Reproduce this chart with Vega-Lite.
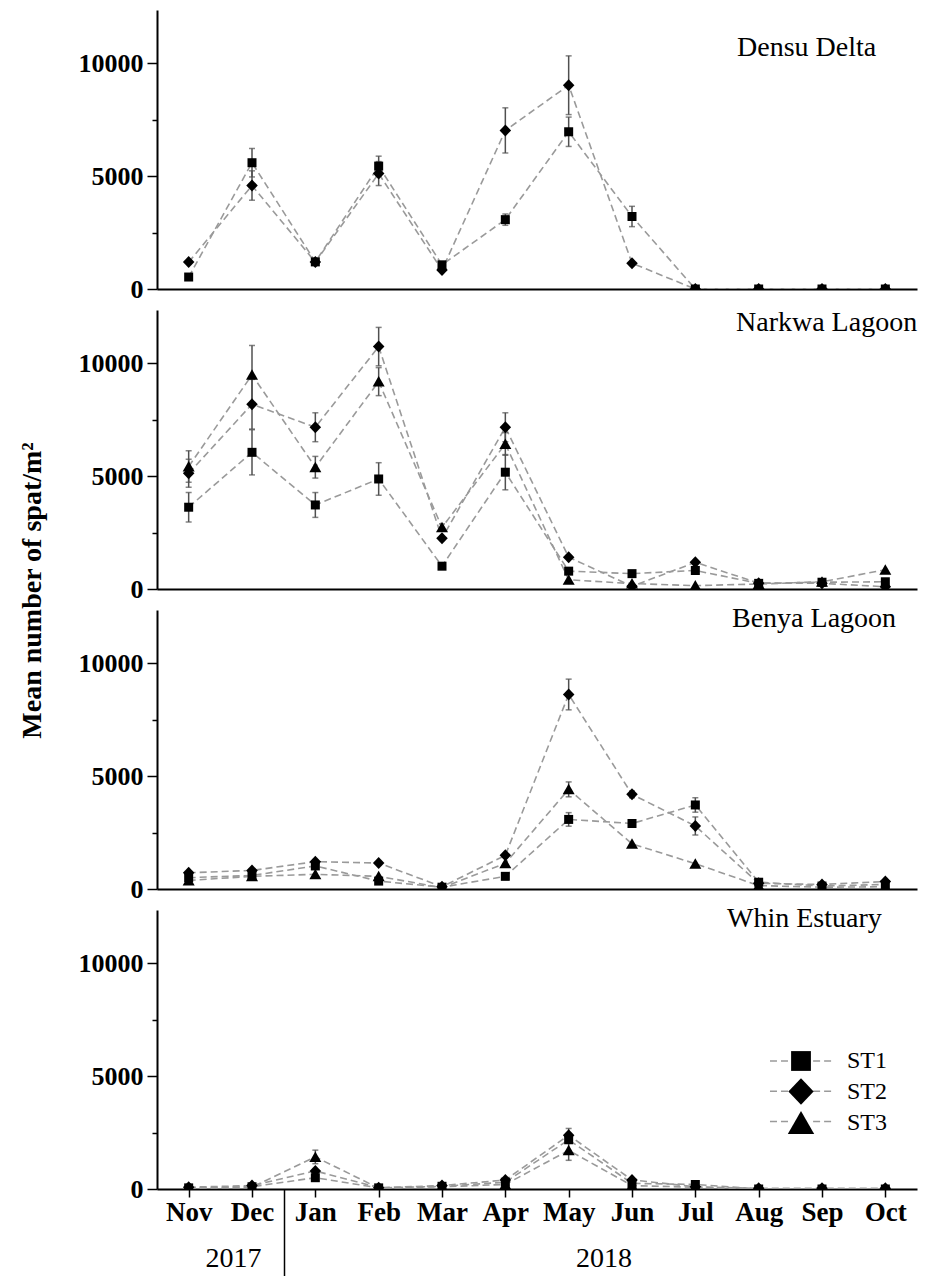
{
  "$schema": "https://vega.github.io/schema/vega-lite/v6.json",
  "autosize": {"type": "pad"},
  "padding": {"left": 18, "top": 10, "right": 5, "bottom": 0},
  "background": "white",
  "config": {
    "view": {"stroke": null},
    "font": "Liberation Serif",
    "axis": {"grid": false, "domainColor": "black", "domainWidth": 2, "tickColor": "black", "tickWidth": 1.5, "labelColor": "black", "labelFont": "Liberation Serif", "labelFontWeight": "bold", "titleColor": "black"}
  },
  "datasets": {
    "d": [
      {"s":"Densu Delta","st":"ST1","m":"Nov","i":0,"v":530,"se":0},
      {"s":"Densu Delta","st":"ST1","m":"Dec","i":1,"v":5590,"se":630},
      {"s":"Densu Delta","st":"ST1","m":"Jan","i":2,"v":1200,"se":0},
      {"s":"Densu Delta","st":"ST1","m":"Feb","i":3,"v":5440,"se":440},
      {"s":"Densu Delta","st":"ST1","m":"Mar","i":4,"v":1070,"se":0},
      {"s":"Densu Delta","st":"ST1","m":"Apr","i":5,"v":3070,"se":250},
      {"s":"Densu Delta","st":"ST1","m":"May","i":6,"v":6960,"se":650},
      {"s":"Densu Delta","st":"ST1","m":"Jun","i":7,"v":3210,"se":450},
      {"s":"Densu Delta","st":"ST1","m":"Jul","i":8,"v":0,"se":0},
      {"s":"Densu Delta","st":"ST1","m":"Aug","i":9,"v":0,"se":0},
      {"s":"Densu Delta","st":"ST1","m":"Sep","i":10,"v":0,"se":0},
      {"s":"Densu Delta","st":"ST1","m":"Oct","i":11,"v":0,"se":0},
      {"s":"Densu Delta","st":"ST2","m":"Nov","i":0,"v":1190,"se":0},
      {"s":"Densu Delta","st":"ST2","m":"Dec","i":1,"v":4580,"se":650},
      {"s":"Densu Delta","st":"ST2","m":"Jan","i":2,"v":1190,"se":0},
      {"s":"Densu Delta","st":"ST2","m":"Feb","i":3,"v":5110,"se":530},
      {"s":"Densu Delta","st":"ST2","m":"Mar","i":4,"v":840,"se":0},
      {"s":"Densu Delta","st":"ST2","m":"Apr","i":5,"v":7020,"se":1000},
      {"s":"Densu Delta","st":"ST2","m":"May","i":6,"v":9020,"se":1300},
      {"s":"Densu Delta","st":"ST2","m":"Jun","i":7,"v":1140,"se":0},
      {"s":"Densu Delta","st":"ST2","m":"Jul","i":8,"v":0,"se":0},
      {"s":"Densu Delta","st":"ST2","m":"Aug","i":9,"v":0,"se":0},
      {"s":"Densu Delta","st":"ST2","m":"Sep","i":10,"v":0,"se":0},
      {"s":"Densu Delta","st":"ST2","m":"Oct","i":11,"v":0,"se":0},

      {"s":"Narkwa Lagoon","st":"ST1","m":"Nov","i":0,"v":3620,"se":650},
      {"s":"Narkwa Lagoon","st":"ST1","m":"Dec","i":1,"v":6050,"se":1000},
      {"s":"Narkwa Lagoon","st":"ST1","m":"Jan","i":2,"v":3720,"se":550},
      {"s":"Narkwa Lagoon","st":"ST1","m":"Feb","i":3,"v":4870,"se":720},
      {"s":"Narkwa Lagoon","st":"ST1","m":"Mar","i":4,"v":1010,"se":0},
      {"s":"Narkwa Lagoon","st":"ST1","m":"Apr","i":5,"v":5170,"se":780},
      {"s":"Narkwa Lagoon","st":"ST1","m":"May","i":6,"v":790,"se":0},
      {"s":"Narkwa Lagoon","st":"ST1","m":"Jun","i":7,"v":680,"se":0},
      {"s":"Narkwa Lagoon","st":"ST1","m":"Jul","i":8,"v":820,"se":0},
      {"s":"Narkwa Lagoon","st":"ST1","m":"Aug","i":9,"v":250,"se":0},
      {"s":"Narkwa Lagoon","st":"ST1","m":"Sep","i":10,"v":300,"se":0},
      {"s":"Narkwa Lagoon","st":"ST1","m":"Oct","i":11,"v":320,"se":0},
      {"s":"Narkwa Lagoon","st":"ST2","m":"Nov","i":0,"v":5120,"se":620},
      {"s":"Narkwa Lagoon","st":"ST2","m":"Dec","i":1,"v":8180,"se":1100},
      {"s":"Narkwa Lagoon","st":"ST2","m":"Jan","i":2,"v":7160,"se":640},
      {"s":"Narkwa Lagoon","st":"ST2","m":"Feb","i":3,"v":10730,"se":850},
      {"s":"Narkwa Lagoon","st":"ST2","m":"Mar","i":4,"v":2250,"se":0},
      {"s":"Narkwa Lagoon","st":"ST2","m":"Apr","i":5,"v":7160,"se":640},
      {"s":"Narkwa Lagoon","st":"ST2","m":"May","i":6,"v":1410,"se":0},
      {"s":"Narkwa Lagoon","st":"ST2","m":"Jun","i":7,"v":120,"se":0},
      {"s":"Narkwa Lagoon","st":"ST2","m":"Jul","i":8,"v":1180,"se":0},
      {"s":"Narkwa Lagoon","st":"ST2","m":"Aug","i":9,"v":260,"se":0},
      {"s":"Narkwa Lagoon","st":"ST2","m":"Sep","i":10,"v":250,"se":0},
      {"s":"Narkwa Lagoon","st":"ST2","m":"Oct","i":11,"v":100,"se":0},
      {"s":"Narkwa Lagoon","st":"ST3","m":"Nov","i":0,"v":5420,"se":700},
      {"s":"Narkwa Lagoon","st":"ST3","m":"Dec","i":1,"v":9480,"se":1300},
      {"s":"Narkwa Lagoon","st":"ST3","m":"Jan","i":2,"v":5390,"se":480},
      {"s":"Narkwa Lagoon","st":"ST3","m":"Feb","i":3,"v":9180,"se":620},
      {"s":"Narkwa Lagoon","st":"ST3","m":"Mar","i":4,"v":2730,"se":150},
      {"s":"Narkwa Lagoon","st":"ST3","m":"Apr","i":5,"v":6420,"se":500},
      {"s":"Narkwa Lagoon","st":"ST3","m":"May","i":6,"v":410,"se":0},
      {"s":"Narkwa Lagoon","st":"ST3","m":"Jun","i":7,"v":240,"se":0},
      {"s":"Narkwa Lagoon","st":"ST3","m":"Jul","i":8,"v":150,"se":0},
      {"s":"Narkwa Lagoon","st":"ST3","m":"Aug","i":9,"v":220,"se":0},
      {"s":"Narkwa Lagoon","st":"ST3","m":"Sep","i":10,"v":320,"se":0},
      {"s":"Narkwa Lagoon","st":"ST3","m":"Oct","i":11,"v":850,"se":0},

      {"s":"Benya Lagoon","st":"ST1","m":"Nov","i":0,"v":500,"se":0},
      {"s":"Benya Lagoon","st":"ST1","m":"Dec","i":1,"v":600,"se":0},
      {"s":"Benya Lagoon","st":"ST1","m":"Jan","i":2,"v":1020,"se":0},
      {"s":"Benya Lagoon","st":"ST1","m":"Feb","i":3,"v":350,"se":0},
      {"s":"Benya Lagoon","st":"ST1","m":"Mar","i":4,"v":80,"se":0},
      {"s":"Benya Lagoon","st":"ST1","m":"Apr","i":5,"v":560,"se":0},
      {"s":"Benya Lagoon","st":"ST1","m":"May","i":6,"v":3080,"se":300},
      {"s":"Benya Lagoon","st":"ST1","m":"Jun","i":7,"v":2900,"se":150},
      {"s":"Benya Lagoon","st":"ST1","m":"Jul","i":8,"v":3720,"se":320},
      {"s":"Benya Lagoon","st":"ST1","m":"Aug","i":9,"v":300,"se":0},
      {"s":"Benya Lagoon","st":"ST1","m":"Sep","i":10,"v":130,"se":0},
      {"s":"Benya Lagoon","st":"ST1","m":"Oct","i":11,"v":200,"se":0},
      {"s":"Benya Lagoon","st":"ST2","m":"Nov","i":0,"v":720,"se":0},
      {"s":"Benya Lagoon","st":"ST2","m":"Dec","i":1,"v":820,"se":0},
      {"s":"Benya Lagoon","st":"ST2","m":"Jan","i":2,"v":1210,"se":0},
      {"s":"Benya Lagoon","st":"ST2","m":"Feb","i":3,"v":1150,"se":0},
      {"s":"Benya Lagoon","st":"ST2","m":"Mar","i":4,"v":100,"se":0},
      {"s":"Benya Lagoon","st":"ST2","m":"Apr","i":5,"v":1490,"se":0},
      {"s":"Benya Lagoon","st":"ST2","m":"May","i":6,"v":8610,"se":680},
      {"s":"Benya Lagoon","st":"ST2","m":"Jun","i":7,"v":4190,"se":150},
      {"s":"Benya Lagoon","st":"ST2","m":"Jul","i":8,"v":2790,"se":400},
      {"s":"Benya Lagoon","st":"ST2","m":"Aug","i":9,"v":250,"se":0},
      {"s":"Benya Lagoon","st":"ST2","m":"Sep","i":10,"v":200,"se":0},
      {"s":"Benya Lagoon","st":"ST2","m":"Oct","i":11,"v":330,"se":0},
      {"s":"Benya Lagoon","st":"ST3","m":"Nov","i":0,"v":380,"se":0},
      {"s":"Benya Lagoon","st":"ST3","m":"Dec","i":1,"v":560,"se":0},
      {"s":"Benya Lagoon","st":"ST3","m":"Jan","i":2,"v":650,"se":0},
      {"s":"Benya Lagoon","st":"ST3","m":"Feb","i":3,"v":560,"se":0},
      {"s":"Benya Lagoon","st":"ST3","m":"Mar","i":4,"v":60,"se":0},
      {"s":"Benya Lagoon","st":"ST3","m":"Apr","i":5,"v":1140,"se":0},
      {"s":"Benya Lagoon","st":"ST3","m":"May","i":6,"v":4410,"se":330},
      {"s":"Benya Lagoon","st":"ST3","m":"Jun","i":7,"v":2000,"se":0},
      {"s":"Benya Lagoon","st":"ST3","m":"Jul","i":8,"v":1120,"se":0},
      {"s":"Benya Lagoon","st":"ST3","m":"Aug","i":9,"v":150,"se":0},
      {"s":"Benya Lagoon","st":"ST3","m":"Sep","i":10,"v":80,"se":0},
      {"s":"Benya Lagoon","st":"ST3","m":"Oct","i":11,"v":100,"se":0},

      {"s":"Whin Estuary","st":"ST1","m":"Nov","i":0,"v":50,"se":0},
      {"s":"Whin Estuary","st":"ST1","m":"Dec","i":1,"v":100,"se":0},
      {"s":"Whin Estuary","st":"ST1","m":"Jan","i":2,"v":500,"se":0},
      {"s":"Whin Estuary","st":"ST1","m":"Feb","i":3,"v":50,"se":0},
      {"s":"Whin Estuary","st":"ST1","m":"Mar","i":4,"v":120,"se":0},
      {"s":"Whin Estuary","st":"ST1","m":"Apr","i":5,"v":300,"se":0},
      {"s":"Whin Estuary","st":"ST1","m":"May","i":6,"v":2180,"se":0},
      {"s":"Whin Estuary","st":"ST1","m":"Jun","i":7,"v":250,"se":0},
      {"s":"Whin Estuary","st":"ST1","m":"Jul","i":8,"v":200,"se":0},
      {"s":"Whin Estuary","st":"ST1","m":"Aug","i":9,"v":0,"se":0},
      {"s":"Whin Estuary","st":"ST1","m":"Sep","i":10,"v":0,"se":0},
      {"s":"Whin Estuary","st":"ST1","m":"Oct","i":11,"v":0,"se":0},
      {"s":"Whin Estuary","st":"ST2","m":"Nov","i":0,"v":80,"se":0},
      {"s":"Whin Estuary","st":"ST2","m":"Dec","i":1,"v":150,"se":0},
      {"s":"Whin Estuary","st":"ST2","m":"Jan","i":2,"v":800,"se":0},
      {"s":"Whin Estuary","st":"ST2","m":"Feb","i":3,"v":60,"se":0},
      {"s":"Whin Estuary","st":"ST2","m":"Mar","i":4,"v":150,"se":0},
      {"s":"Whin Estuary","st":"ST2","m":"Apr","i":5,"v":400,"se":0},
      {"s":"Whin Estuary","st":"ST2","m":"May","i":6,"v":2380,"se":300},
      {"s":"Whin Estuary","st":"ST2","m":"Jun","i":7,"v":400,"se":0},
      {"s":"Whin Estuary","st":"ST2","m":"Jul","i":8,"v":100,"se":0},
      {"s":"Whin Estuary","st":"ST2","m":"Aug","i":9,"v":30,"se":0},
      {"s":"Whin Estuary","st":"ST2","m":"Sep","i":10,"v":30,"se":0},
      {"s":"Whin Estuary","st":"ST2","m":"Oct","i":11,"v":30,"se":0},
      {"s":"Whin Estuary","st":"ST3","m":"Nov","i":0,"v":30,"se":0},
      {"s":"Whin Estuary","st":"ST3","m":"Dec","i":1,"v":80,"se":0},
      {"s":"Whin Estuary","st":"ST3","m":"Jan","i":2,"v":1420,"se":300},
      {"s":"Whin Estuary","st":"ST3","m":"Feb","i":3,"v":40,"se":0},
      {"s":"Whin Estuary","st":"ST3","m":"Mar","i":4,"v":100,"se":0},
      {"s":"Whin Estuary","st":"ST3","m":"Apr","i":5,"v":200,"se":0},
      {"s":"Whin Estuary","st":"ST3","m":"May","i":6,"v":1710,"se":440},
      {"s":"Whin Estuary","st":"ST3","m":"Jun","i":7,"v":150,"se":0},
      {"s":"Whin Estuary","st":"ST3","m":"Jul","i":8,"v":80,"se":0},
      {"s":"Whin Estuary","st":"ST3","m":"Aug","i":9,"v":0,"se":0},
      {"s":"Whin Estuary","st":"ST3","m":"Sep","i":10,"v":0,"se":0},
      {"s":"Whin Estuary","st":"ST3","m":"Oct","i":11,"v":0,"se":0}
    ]
  },
  "data": {"name": "d"},
  "bounds": "flush",
  "spacing": 21,
  "resolve": {
    "scale": {"x": "independent", "y": "independent", "shape": "independent", "strokeDash": "independent"},
    "legend": {"shape": "independent", "strokeDash": "independent"}
  },
  "vconcat": [
    {
      "width": 760, "height": 279,
      "title": {"text": "Densu Delta", "anchor": "start", "frame": "group", "dx": 580, "offset": -74, "baseline": "alphabetic", "fontSize": 28, "fontWeight": "normal", "font": "Liberation Serif", "color": "black"},
      "transform": [{"filter": "datum.s == 'Densu Delta'"}],
      "encoding": {
        "x": {"field": "i", "type": "quantitative", "scale": {"domain": [-0.5, 11.5], "nice": false, "zero": false}, "axis": {"labels": false, "ticks": false, "title": null}},
        "y": {"field": "v", "type": "quantitative", "scale": {"domain": [0, 12350], "nice": false}, "axis": {"values": [0, 2500, 5000, 7500, 10000], "format": "d", "labelExpr": "datum.value % 5000 == 0 ? datum.label : ''", "tickSize": {"condition": {"test": "datum.value % 5000 != 0", "value": 5}, "value": 10}, "labelFontSize": 26, "labelPadding": 4, "title": null}}
      },
      "layer": [
        {"mark": {"type": "line", "color": "#9a9a9a", "strokeWidth": 1.6, "clip": true}, "encoding": {"strokeDash": {"field": "st", "type": "nominal", "scale": {"range": [[7, 4], [7, 4], [7, 4]]}, "legend": null}}},
        {"transform": [{"filter": "datum.se > 0"}], "mark": {"type": "errorbar", "color": "#505050", "thickness": 1.5, "ticks": {"size": 6, "color": "#505050", "thickness": 1.5}}, "encoding": {"yError": {"field": "se"}}},
        {"mark": {"type": "point", "filled": true, "color": "black", "size": 100, "opacity": 1, "strokeWidth": 0, "clip": true}, "encoding": {"shape": {"field": "st", "type": "nominal", "scale": {"domain": ["ST1", "ST2", "ST3"], "range": ["M-0.9,-0.9L0.9,-0.9L0.9,0.9L-0.9,0.9Z", "M0,-1.2L1.15,0L0,1.2L-1.15,0Z", "M0,-1.1L1.2,1L-1.2,1Z"]}, "legend": null}}}
      ]
    },
    {
      "width": 760, "height": 279,
      "title": {"text": "Narkwa Lagoon", "anchor": "start", "frame": "group", "dx": 579, "offset": -49, "baseline": "alphabetic", "fontSize": 28, "fontWeight": "normal", "font": "Liberation Serif", "color": "black"},
      "transform": [{"filter": "datum.s == 'Narkwa Lagoon'"}],
      "encoding": {
        "x": {"field": "i", "type": "quantitative", "scale": {"domain": [-0.5, 11.5], "nice": false, "zero": false}, "axis": {"labels": false, "ticks": false, "title": null}},
        "y": {"field": "v", "type": "quantitative", "scale": {"domain": [0, 12350], "nice": false}, "axis": {"values": [0, 2500, 5000, 7500, 10000], "format": "d", "labelExpr": "datum.value % 5000 == 0 ? datum.label : ''", "tickSize": {"condition": {"test": "datum.value % 5000 != 0", "value": 5}, "value": 10}, "labelFontSize": 26, "labelPadding": 4, "title": "Mean number of spat/m²", "titleFont": "Liberation Serif", "titleFontWeight": "bold", "titleFontSize": 28, "titleBaseline": "alphabetic", "titleX": -117, "titleY": 280}}
      },
      "layer": [
        {"mark": {"type": "line", "color": "#9a9a9a", "strokeWidth": 1.6, "clip": true}, "encoding": {"strokeDash": {"field": "st", "type": "nominal", "scale": {"range": [[7, 4], [7, 4], [7, 4]]}, "legend": null}}},
        {"transform": [{"filter": "datum.se > 0"}], "mark": {"type": "errorbar", "color": "#505050", "thickness": 1.5, "ticks": {"size": 6, "color": "#505050", "thickness": 1.5}}, "encoding": {"yError": {"field": "se"}}},
        {"mark": {"type": "point", "filled": true, "color": "black", "size": 100, "opacity": 1, "strokeWidth": 0, "clip": true}, "encoding": {"shape": {"field": "st", "type": "nominal", "scale": {"domain": ["ST1", "ST2", "ST3"], "range": ["M-0.9,-0.9L0.9,-0.9L0.9,0.9L-0.9,0.9Z", "M0,-1.2L1.15,0L0,1.2L-1.15,0Z", "M0,-1.1L1.2,1L-1.2,1Z"]}, "legend": null}}}
      ]
    },
    {
      "width": 760, "height": 279,
      "title": {"text": "Benya Lagoon", "anchor": "start", "frame": "group", "dx": 575, "offset": -45, "baseline": "alphabetic", "fontSize": 28, "fontWeight": "normal", "font": "Liberation Serif", "color": "black"},
      "transform": [{"filter": "datum.s == 'Benya Lagoon'"}],
      "encoding": {
        "x": {"field": "i", "type": "quantitative", "scale": {"domain": [-0.5, 11.5], "nice": false, "zero": false}, "axis": {"labels": false, "ticks": false, "title": null}},
        "y": {"field": "v", "type": "quantitative", "scale": {"domain": [0, 12350], "nice": false}, "axis": {"values": [0, 2500, 5000, 7500, 10000], "format": "d", "labelExpr": "datum.value % 5000 == 0 ? datum.label : ''", "tickSize": {"condition": {"test": "datum.value % 5000 != 0", "value": 5}, "value": 10}, "labelFontSize": 26, "labelPadding": 4, "title": null}}
      },
      "layer": [
        {"mark": {"type": "line", "color": "#9a9a9a", "strokeWidth": 1.6, "clip": true}, "encoding": {"strokeDash": {"field": "st", "type": "nominal", "scale": {"range": [[7, 4], [7, 4], [7, 4]]}, "legend": null}}},
        {"transform": [{"filter": "datum.se > 0"}], "mark": {"type": "errorbar", "color": "#505050", "thickness": 1.5, "ticks": {"size": 6, "color": "#505050", "thickness": 1.5}}, "encoding": {"yError": {"field": "se"}}},
        {"mark": {"type": "point", "filled": true, "color": "black", "size": 100, "opacity": 1, "strokeWidth": 0, "clip": true}, "encoding": {"shape": {"field": "st", "type": "nominal", "scale": {"domain": ["ST1", "ST2", "ST3"], "range": ["M-0.9,-0.9L0.9,-0.9L0.9,0.9L-0.9,0.9Z", "M0,-1.2L1.15,0L0,1.2L-1.15,0Z", "M0,-1.1L1.2,1L-1.2,1Z"]}, "legend": null}}}
      ]
    },
    {
      "width": 760, "height": 279,
      "title": {"text": "Whin Estuary", "anchor": "start", "frame": "group", "dx": 570, "offset": -45, "baseline": "alphabetic", "fontSize": 28, "fontWeight": "normal", "font": "Liberation Serif", "color": "black"},
      "transform": [{"filter": "datum.s == 'Whin Estuary'"}],
      "encoding": {
        "x": {"field": "i", "type": "quantitative", "scale": {"domain": [-0.5, 11.5], "nice": false, "zero": false}, "axis": {
          "values": [0, 0.7, 1, 1.5, 2, 3, 4, 5, 6, 6.55, 7, 8, 9, 10, 11],
          "labelExpr": "datum.value == 0.7 ? '2017' : datum.value == 6.55 ? '2018' : datum.value == 1.5 ? '' : ['Nov','Dec','Jan','Feb','Mar','Apr','May','Jun','Jul','Aug','Sep','Oct'][datum.value]",
          "tickSize": {"condition": {"test": "datum.value == 1.5", "value": 87}, "value": 8},
          "tickOpacity": {"condition": {"test": "datum.value == 0.7 || datum.value == 6.55", "value": 0}, "value": 1},
          "labelPadding": {"condition": {"test": "datum.value == 0.7 || datum.value == 6.55", "value": 47.5}, "value": 2.5},
          "labelFontWeight": {"condition": {"test": "datum.value == 0.7 || datum.value == 6.55", "value": "normal"}, "value": "bold"},
          "labelFontSize": {"condition": {"test": "datum.value == 0.7 || datum.value == 6.55", "value": 28}, "value": 27},
          "labelOverlap": false, "labelFlush": false, "title": null}},
        "y": {"field": "v", "type": "quantitative", "scale": {"domain": [0, 12350], "nice": false}, "axis": {"values": [0, 2500, 5000, 7500, 10000], "format": "d", "labelExpr": "datum.value % 5000 == 0 ? datum.label : ''", "tickSize": {"condition": {"test": "datum.value % 5000 != 0", "value": 5}, "value": 10}, "labelFontSize": 26, "labelPadding": 4, "title": null}}
      },
      "layer": [
        {"mark": {"type": "line", "color": "#9a9a9a", "strokeWidth": 1.6, "clip": true}, "encoding": {"strokeDash": {"field": "st", "type": "nominal", "scale": {"range": [[7, 4], [7, 4], [7, 4]]}, "legend": {"orient": "none", "legendX": 632, "legendY": 139, "title": null, "symbolType": "M-2.82,0L-1.1,0M1.1,0L2.82,0", "symbolSize": 484, "symbolStrokeColor": "#9a9a9a", "symbolStrokeWidth": 1.6, "symbolFillColor": "transparent", "labelOpacity": 0, "labelFont": "Liberation Serif", "labelFontSize": 24, "labelOffset": 34, "rowPadding": 6.25, "padding": 0}}}},
        {"transform": [{"filter": "datum.se > 0"}], "mark": {"type": "errorbar", "color": "#505050", "thickness": 1.5, "ticks": {"size": 6, "color": "#505050", "thickness": 1.5}}, "encoding": {"yError": {"field": "se"}}},
        {"mark": {"type": "point", "filled": true, "color": "black", "size": 100, "opacity": 1, "strokeWidth": 0, "clip": true}, "encoding": {"shape": {"field": "st", "type": "nominal", "scale": {"domain": ["ST1", "ST2", "ST3"], "range": ["M-0.9,-0.9L0.9,-0.9L0.9,0.9L-0.9,0.9Z", "M0,-1.2L1.15,0L0,1.2L-1.15,0Z", "M0,-1.1L1.2,1L-1.2,1Z"]}, "legend": {"orient": "none", "legendX": 632, "legendY": 139, "title": null, "symbolSize": 484, "symbolFillColor": "black", "symbolStrokeWidth": 0, "symbolOpacity": 1, "labelFont": "Liberation Serif", "labelFontSize": 24, "labelColor": "black", "labelOffset": 34, "rowPadding": 4.5, "padding": 0}}}}
      ]
    }
  ]
}
